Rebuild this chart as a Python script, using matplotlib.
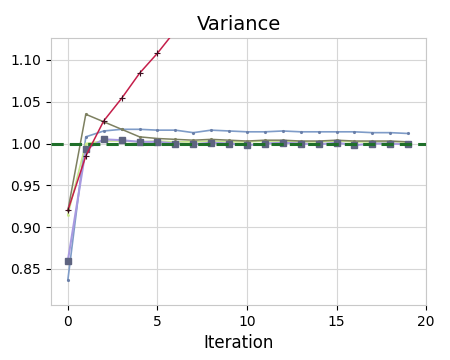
import matplotlib
matplotlib.use("Agg")
import matplotlib.pyplot as plt
import numpy as np

iterations = list(range(20))
series_red = [0.92, 0.985, 1.027, 1.054, 1.084, 1.108, 1.135, 1.16, 1.18, 1.20,
              1.22, 1.24, 1.26, 1.28, 1.30, 1.32, 1.34, 1.36, 1.38, 1.40]
series_blue = [0.837, 1.008, 1.015, 1.017, 1.017, 1.016, 1.016, 1.013, 1.016, 1.015,
               1.014, 1.014, 1.015, 1.014, 1.014, 1.014, 1.014, 1.013, 1.013, 1.012]
series_olive = [0.92, 1.035, 1.026, 1.017, 1.008, 1.006, 1.005, 1.004, 1.005, 1.004,
                1.003, 1.004, 1.004, 1.003, 1.003, 1.004, 1.003, 1.003, 1.003, 1.002]
series_lav = [0.86, 0.993, 1.005, 1.004, 1.002, 1.002, 1.000, 0.999, 1.001, 1.000,
              0.998, 1.000, 1.001, 1.000, 0.999, 1.001, 0.998, 1.000, 1.000, 0.999]
series_lime = [0.915, 1.000, 1.003, 1.003, 1.002, 1.003, 1.002, 1.002, 1.003, 1.002,
               1.002, 1.003, 1.002, 1.002, 1.002, 1.003, 1.002, 1.002, 1.002, 1.002]
reference = 1.0

fig = plt.figure(figsize=(4.5, 3.6), dpi=100)
ax = fig.add_axes([0.113, 0.153, 0.834, 0.741])

ax.plot(iterations, series_blue, color='#7f9cc8', lw=1.2, marker='.', ms=2.5,
        mec='#6a7fa8', zorder=3)
ax.plot(iterations, series_lime, color='#c8e68c', lw=1.2, marker='.', ms=2,
        zorder=3)
ax.plot(iterations, series_olive, color='#7d8060', lw=1.1, marker='.', ms=2.5,
        zorder=3)
ax.plot(iterations, series_lav, color='#a89ae0', lw=1.5, marker='s', ms=4,
        mfc='#5e6480', mec='#5e6480', zorder=3)
ax.axhline(reference, color='#1f6f2a', ls='--', lw=2.2, dashes=(4, 2), zorder=4)
ax.plot(iterations, series_red, color='#c41e4a', lw=1.1, marker='+', ms=5,
        mec='#3a1020', mew=0.8, zorder=5)

ax.set_xlim(-0.95, 19.95)
ax.set_ylim(0.807, 1.126)
ax.set_xticks([0, 5, 10, 15, 20])
ax.set_yticks([0.85, 0.90, 0.95, 1.00, 1.05, 1.10])
ax.set_yticklabels(['0.85', '0.90', '0.95', '1.00', '1.05', '1.10'])
ax.grid(True, color='#d6d6d6', lw=0.8)
ax.set_axisbelow(True)
for s in ax.spines.values():
    s.set_color('#c8c8c8')
ax.tick_params(axis='both', labelsize=10, length=3.5, color='black', width=0.8)
ax.set_xlabel('Iteration', fontsize=12)
ax.set_title('Variance', fontsize=14)

fig.savefig('out.png', dpi=100)
